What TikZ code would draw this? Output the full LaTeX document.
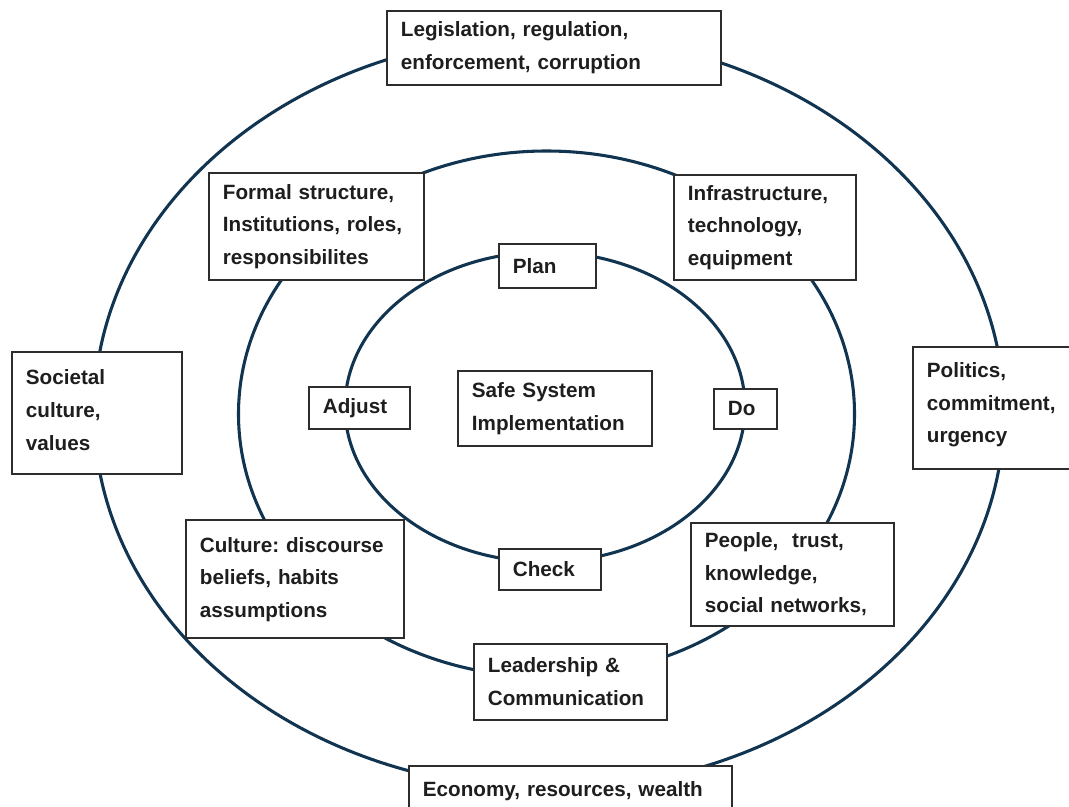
\documentclass[tikz,border=0pt]{standalone}
\usepackage{fontspec}
\setmainfont{Liberation Sans}
\usepackage{xcolor}
\usepackage{tikz}
\usetikzlibrary{positioning}
\definecolor{ringblue}{RGB}{17,52,80}
\definecolor{boxline}{RGB}{45,45,45}
\definecolor{boxtext}{RGB}{30,30,30}
\frenchspacing

\begin{document}
\begin{tikzpicture}[
  x=0.75pt, y=-0.75pt,
  ring/.style={draw=ringblue, line width=2.3pt},
  box/.style 2 args={rectangle, draw=boxline, line width=1.4pt, fill=white,
    anchor=north west, inner xsep=10.5pt, inner ysep=0pt,
    minimum width=#1, minimum height=#2, text width=#1-21pt,
    align=left, text=boxtext, font=\fontsize{15.5}{24.5}\selectfont\bfseries}
  ]
  \useasboundingbox[fill=white] (0,0) rectangle (1069,806);
  % three rings
  \draw[ring] (549,412) ellipse [x radius=341.25pt, y radius=282.75pt];
  \draw[ring] (546.5,414) ellipse [x radius=231pt, y radius=197.25pt];
  \draw[ring] (545,407) ellipse [x radius=150pt, y radius=116.25pt];
  % outer ring
  \node[box={250.5pt}{55.5pt}] (legis) at (386,10) {Legislation, regulation,\\enforcement, corruption};
  \node[box={127.5pt}{91.5pt}, text depth=53.5pt] (society) at (11,351) {Societal\\culture,\\values};
  \node[box={122.25pt}{91.5pt}, text depth=57pt] (politics) at (912,346) {Politics,\\commitment,\\urgency};
  \node[box={242.25pt}{37.5pt}] (economy) at (408,765) {Economy, resources, wealth};
  % middle ring
  \node[box={161.25pt}{80.25pt}] (formal) at (208,172) {Formal structure,\\Institutions, roles,\\responsibilites};
  \node[box={136.5pt}{78.75pt}] (infra) at (673,174) {Infrastructure,\\technology,\\equipment};
  \node[box={163.5pt}{88.5pt}, text depth=51.5pt] (culture) at (185,519) {Culture: discourse\\beliefs, habits\\assumptions};
  \node[box={152.25pt}{77.25pt}] (people) at (690,522) {People,~ trust,\\knowledge,\\social networks,};
  \node[box={144.75pt}{57pt}] (leader) at (473,643) {Leadership \&\\Communication};
  % inner ring
  \node[box={72.75pt}{33pt}] (plan) at (498,243) {Plan};
  \node[box={47.25pt}{30pt}] (do) at (713,388) {Do};
  \node[box={76.5pt}{30.75pt}] (check) at (498,548) {Check};
  \node[box={75.75pt}{31.5pt}] (adjust) at (308,386) {Adjust};
  \node[box={145.5pt}{56.25pt}] (safe) at (457,370) {Safe System\\Implementation};
\end{tikzpicture}
\end{document}
